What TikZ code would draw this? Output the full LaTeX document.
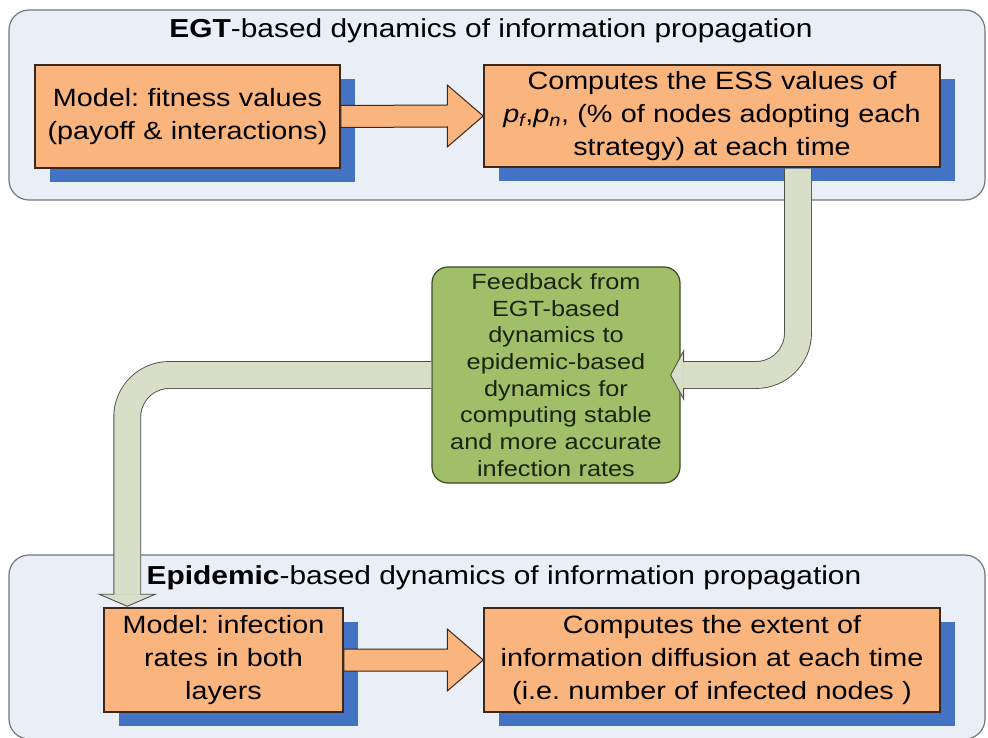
\documentclass[tikz,border=0pt]{standalone}
\usepackage{fontspec}
\setmainfont{Liberation Sans}[FakeStretch=1.15]
\usetikzlibrary{shadows,calc}
\definecolor{panelblue}{RGB}{233,238,247}
\definecolor{panelline}{RGB}{118,118,118}
\definecolor{boxorange}{RGB}{250,180,126}
\definecolor{boxline}{RGB}{58,40,26}
\definecolor{shadowblue}{RGB}{68,114,196}
\definecolor{pipefill}{RGB}{216,222,200}
\definecolor{pipeline}{RGB}{78,80,72}
\definecolor{feedgreen}{RGB}{161,191,104}
\definecolor{feedline}{RGB}{60,72,40}
\definecolor{feedtext}{RGB}{26,36,16}
\frenchspacing
\begin{document}
\begin{tikzpicture}[x=1pt,y=-1pt,
  panel/.style={draw=panelline,line width=1.2pt,fill=panelblue,rounded corners=20pt,inner sep=0pt},
  box/.style={draw=boxline,line width=1.5pt,fill=boxorange,inner sep=0pt,align=center,
    font=\fontsize{25}{33}\selectfont,
    drop shadow={shadow xshift=15pt,shadow yshift=-14pt,fill=shadowblue,opacity=1}},
  title/.style={font=\fontsize{26}{30}\selectfont},
  fat/.style={draw=boxline,line width=1pt,fill=boxorange,line join=miter},
  pipe/.style={draw=pipeline,line width=0.9pt,double=pipefill,double distance=26pt,rounded corners=42pt},
  pipehead/.style={draw=pipeline,line width=0.9pt,fill=pipefill,line join=miter}]
\newcommand\fatarrow[2]{
\path[fat] ($(#1.east)+(0,-11)$) -- ($(#2.west)+(-36,-11)$) -- ($(#2.west)+(-36,-31)$)
  -- (#2.west) -- ($(#2.west)+(-36,31)$) -- ($(#2.west)+(-36,11)$) -- ($(#1.east)+(0,11)$) -- cycle;
}
\useasboundingbox (0,0) rectangle (988,738);
\node[panel,minimum width=976pt,minimum height=190pt] (egtpanel) at (497,105) {};
\node[panel,minimum width=976pt,minimum height=184pt] (epipanel) at (497,647) {};
\node[title] (egttitle) at (491,31) {\textbf{EGT}-based dynamics of information propagation};
\node[title] (epititle) at (504,578) {\textbf{Epidemic}-based dynamics of information propagation};
\node[box,minimum width=305pt,minimum height=103pt,text width=298pt] (fitness) at (187.5,116.5)
  {Model: fitness values\\(payoff \& interactions)};
\node[box,minimum width=456pt,minimum height=102pt,text width=446pt] (ess) at (712,116)
  {Computes the ESS values of\\\textit{p\textsubscript{f}},\textit{p\textsubscript{n}}, (\% of nodes adopting each\\strategy) at each time};
\node[box,minimum width=239pt,minimum height=104pt,text width=232pt] (infect) at (223.5,660)
  {Model: infection\\rates in both\\layers};
\node[box,minimum width=456pt,minimum height=104pt,text width=446pt] (extent) at (712,660)
  {Computes the extent of\\information diffusion at each time\\(i.e. number of infected nodes )};
\fatarrow{fitness}{ess}
\fatarrow{infect}{extent}
\node[draw=feedline,line width=1.2pt,fill=feedgreen,rounded corners=16pt,inner sep=0pt,align=center,
  text=feedtext,font=\fontsize{22}{26.7}\selectfont,minimum width=248pt,minimum height=216pt,text width=242pt]
  (feed) at (556,375)
  {Feedback from\\EGT-based\\dynamics to\\epidemic-based\\dynamics for\\computing stable\\and more accurate\\infection rates};
\coordinate (p1) at ($(ess.south)+(86,1)$);
\draw[pipe] (p1) |- ($(feed.east)+(3,0)$);
\path[pipehead] ($(feed.east)+(3,-13)$) -- ($(feed.east)+(3,-24)$) -- ($(feed.east)+(-10,0)$)
  -- ($(feed.east)+(3,24)$) -- ($(feed.east)+(3,13)$);
\coordinate (p2) at ($(infect.north west)+(24,-13)$);
\draw[pipe] (feed.west) -| (p2);
\path[pipehead] ($(p2)+(-13,0)$) -- ($(p2)+(-28,0)$) -- ($(p2)+(0,12)$) -- ($(p2)+(28,0)$) -- ($(p2)+(13,0)$);
\end{tikzpicture}
\end{document}
